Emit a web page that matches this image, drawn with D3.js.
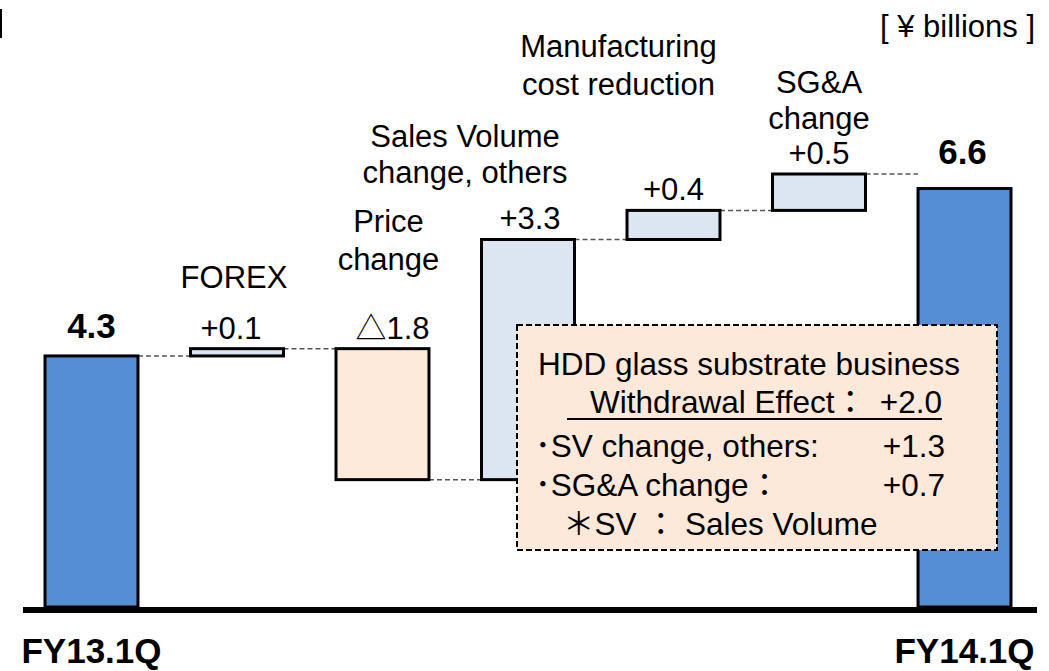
<!DOCTYPE html>
<html>
<head>
<meta charset="utf-8">
<script src="https://cdn.jsdelivr.net/npm/d3@7"></script>
<style>
  html, body { margin: 0; padding: 0; background: #ffffff; }
  svg { display: block; }
  text { font-family: "Liberation Sans", Arial, "Noto Sans CJK JP", sans-serif; fill: #000; }
</style>
</head>
<body>
<svg id="chart" width="1049" height="671"></svg>
<script>
// ---------------- data ----------------
const categories = ["FY13.1Q", "FOREX", "Price change", "Sales Volume change, others",
                    "Manufacturing cost reduction", "SG&A change", "FY14.1Q"];
const categoryLabelLines = [[], ["FOREX"], ["Price", "change"], ["Sales Volume", "change, others"],
                            ["Manufacturing", "cost reduction"], ["SG&A", "change"], []];
const values = [4.3, 0.1, -1.8, 3.3, 0.4, 0.5, 6.6];
const kinds = ["total", "delta", "delta", "delta", "delta", "delta", "total"];
const valueLabels = ["4.3", "+0.1", "\u25B31.8", "+3.3", "+0.4", "+0.5", "6.6"];
const axisLabels = ["FY13.1Q", "", "", "", "", "", "FY14.1Q"];
const unitLabel = "[ \u00A5 billions ]";

const noteTitle = "HDD glass substrate business";
const noteHeadLabel = "Withdrawal Effect\uFF1A";
const noteHeadValue = "+2.0";
const noteItems = ["\uFF65SV change, others:", "\uFF65SG&A change\uFF1A"];
const noteItemValues = ["+1.3", "+0.7"];
const noteFootnote = ["\uFF0ASV", "\uFF1A", "Sales Volume"];

// ---------------- layout (positions only) ----------------
const catLabelBaselines = [[], [288], [232, 270], [147, 183], [57, 95], [93, 129], []];
const catLabelDx = [0, -3, 6, -63, -55, 0, 0];
const valueLabelDx = [0, -6, 10, 2, 0, 0, -2];

const colors = { total: "#558ED5", up: "#DCE6F2", down: "#FDEADA" };

// ---------------- waterfall computation ----------------
const yMin = 0.85;
let running = 0;
const steps = categories.map((c, i) => {
  let start, end;
  if (kinds[i] === "total") { start = yMin; end = values[i]; }
  else { start = running; end = running + values[i]; }
  running = end;
  return { cat: c, i, start, end, kind: kinds[i], v: values[i] };
});

// ---------------- scales ----------------
const svg = d3.select("#chart");
const x = d3.scaleBand().domain(categories).range([45, 1011]).paddingInner(0.361).paddingOuter(0);
const y = d3.scaleLinear().domain([yMin, 6.8]).range([607, 174]);
const bw = x.bandwidth();

// connectors
const conn = [];
for (let i = 0; i < steps.length - 1; i++) {
  conn.push({ x1: x(categories[i]) + bw, x2: x(categories[i + 1]), lvl: steps[i].end });
}
svg.append("g").selectAll("line").data(conn).join("line")
  .attr("x1", d => d.x1).attr("x2", d => d.x2)
  .attr("y1", d => y(d.lvl)).attr("y2", d => y(d.lvl))
  .attr("stroke", "#555").attr("stroke-width", 1.5).attr("stroke-dasharray", "5,3");

// bars
svg.append("g").selectAll("rect").data(steps).join("rect")
  .attr("x", d => x(d.cat))
  .attr("width", bw)
  .attr("y", d => y(Math.max(d.start, d.end)))
  .attr("height", d => Math.abs(y(d.start) - y(d.end)))
  .attr("fill", d => d.kind === "total" ? colors.total : (d.v >= 0 ? colors.up : colors.down))
  .attr("stroke", "#000").attr("stroke-width", 3);

// baseline + axis labels
svg.append("line").attr("x1", 23).attr("x2", 1037).attr("y1", 610).attr("y2", 610)
  .attr("stroke", "#000").attr("stroke-width", 6);
const axis = d3.axisBottom(x).tickSize(0).tickFormat((d, i) => axisLabels[i]);
const gAxis = svg.append("g").attr("transform", "translate(0,610)").call(axis);
gAxis.select(".domain").remove();
gAxis.selectAll("text").attr("y", 53).attr("dy", 0)
  .style("font-family", "'Liberation Sans', Arial, sans-serif")
  .style("font-size", "35px").style("font-weight", "bold").attr("fill", "#000");

// value labels
svg.append("g").selectAll("text").data(steps).join("text")
  .attr("x", d => x(d.cat) + bw / 2 + valueLabelDx[d.i])
  .attr("y", d => y(Math.max(d.start, d.end)) - (d.kind === "total" ? (d.i === 0 ? 18 : 25) : 10))
  .attr("text-anchor", "middle")
  .style("font-size", d => d.kind === "total" ? "35px" : "31px")
  .style("font-weight", d => d.kind === "total" ? "bold" : "normal")
  .text(d => valueLabels[d.i]);

// category labels
const catG = svg.append("g");
steps.forEach(d => {
  categoryLabelLines[d.i].forEach((line, k) => {
    catG.append("text")
      .attr("x", x(d.cat) + bw / 2 + catLabelDx[d.i])
      .attr("y", catLabelBaselines[d.i][k])
      .attr("text-anchor", "middle")
      .style("font-size", "31px")
      .text(line);
  });
});

// unit label
svg.append("text").attr("x", 1035).attr("y", 37).attr("text-anchor", "end")
  .style("font-size", "31px").text(unitLabel);

// small mark top-left
svg.append("rect").attr("x", 0).attr("y", 9).attr("width", 2).attr("height", 29).attr("fill", "#000");

// note box
const note = svg.append("g");
note.append("rect").attr("x", 517).attr("y", 325).attr("width", 480).attr("height", 225)
  .attr("fill", "#FDE9D9").attr("stroke", "#000").attr("stroke-width", 2)
  .attr("stroke-dasharray", "6,3");
const fs = "31.5px";
note.append("text").attr("x", 538).attr("y", 375).style("font-size", fs).text(noteTitle);
note.append("text").attr("x", 590).attr("y", 413).style("font-size", fs).text(noteHeadLabel);
note.append("text").attr("x", 942).attr("y", 413).attr("text-anchor", "end").style("font-size", fs).text(noteHeadValue);
note.append("line").attr("x1", 567).attr("x2", 942).attr("y1", 419).attr("y2", 419)
  .attr("stroke", "#000").attr("stroke-width", 2);
noteItems.forEach((t, k) => {
  const yy = [457, 496][k];
  note.append("text").attr("x", 535).attr("y", yy).style("font-size", fs).text(t);
  note.append("text").attr("x", 945).attr("y", yy).attr("text-anchor", "end").style("font-size", fs).text(noteItemValues[k]);
});
note.append("text").attr("x", 563).attr("y", 535).style("font-size", fs).text(noteFootnote[0]);
note.append("text").attr("x", 645).attr("y", 535).style("font-size", fs).text(noteFootnote[1]);
note.append("text").attr("x", 685).attr("y", 535).style("font-size", fs).text(noteFootnote[2]);
</script>
</body>
</html>
